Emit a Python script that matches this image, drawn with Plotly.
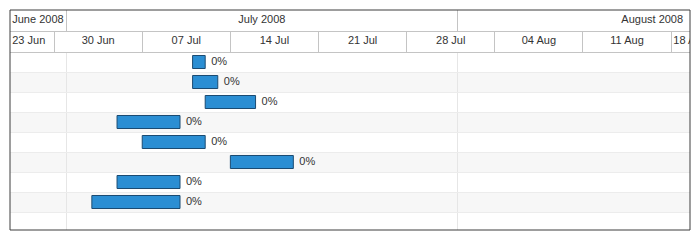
import plotly.graph_objects as go
from datetime import datetime, timedelta

# ---- data ----
task_starts = ["2008-07-11", "2008-07-11", "2008-07-12", "2008-07-05",
               "2008-07-07", "2008-07-14", "2008-07-05", "2008-07-03"]
task_ends = ["2008-07-12", "2008-07-13", "2008-07-16", "2008-07-10",
             "2008-07-12", "2008-07-19", "2008-07-10", "2008-07-10"]
task_progress = [0, 0, 0, 0, 0, 0, 0, 0]
n_rows = 9  # 8 tasks + one empty row

view_start = "2008-06-26 12:00"
view_end = "2008-08-19 12:00"

month_starts = ["2008-06-01", "2008-07-01", "2008-08-01", "2008-09-01"]
month_labels = ["June 2008", "July 2008", "August 2008"]
week_starts = ["2008-06-23", "2008-06-30", "2008-07-07", "2008-07-14", "2008-07-21",
               "2008-07-28", "2008-08-04", "2008-08-11", "2008-08-18", "2008-08-25"]
week_labels = ["23 Jun", "30 Jun", "07 Jul", "14 Jul", "21 Jul",
               "28 Jul", "04 Aug", "11 Aug", "18 Aug"]

# ---- helpers ----
def p(s):
    for fmt in ("%Y-%m-%d %H:%M", "%Y-%m-%d"):
        try:
            return datetime.strptime(s, fmt)
        except ValueError:
            pass

vs, ve = p(view_start), p(view_end)
W, H = 700, 240
FONT = "Liberation Sans, Arial, sans-serif"
TXT = "#333333"
HDR_LINE = "#c4c4c4"
CLEAR = "rgba(0,0,0,0)"

rows = list(range(len(task_starts)))
durations = [(p(e) - p(s)).total_seconds() * 1000 for s, e in zip(task_starts, task_ends)]

fig = go.Figure()

# bars
fig.add_trace(go.Bar(
    y=rows, base=task_starts, x=durations, orientation="h",
    width=0.65,
    marker=dict(color="#2b8ed3", line=dict(color="#1b4b72", width=1)),
    hoverinfo="skip", xaxis="x", yaxis="y",
))
# progress labels at bar ends
fig.add_trace(go.Scatter(
    x=task_ends, y=rows, mode="markers+text",
    marker=dict(size=8, color=CLEAR),
    text=[f"{v}%" for v in task_progress], textposition="middle right",
    textfont=dict(family=FONT, size=11, color=TXT), cliponaxis=False,
    hoverinfo="skip", xaxis="x", yaxis="y"))

# header labels
def label_positions(starts, n):
    xs, pos = [], []
    for i in range(n):
        a, b = p(starts[i]), p(starts[i + 1])
        mid = a + (b - a) / 2
        if a >= vs and b <= ve:
            xs.append(mid); pos.append("middle center")
        elif vs < mid < ve and a >= vs:
            xs.append(mid); pos.append("middle center")
        else:
            xs.append(max(a, vs)); pos.append("middle right")
    return xs, pos

mx, mpos = label_positions(month_starts, len(month_labels))
wx, wpos = label_positions(week_starts, len(week_labels))

fig.add_trace(go.Scatter(
    x=wx, y=[0.5] * len(wx), mode="markers+text", text=week_labels, textposition=wpos,
    marker=dict(size=2, color=CLEAR),
    textfont=dict(family=FONT, size=11, color=TXT), cliponaxis=True,
    hoverinfo="skip", xaxis="x2", yaxis="y2"))
fig.add_trace(go.Scatter(
    x=mx, y=[0.5] * len(mx), mode="markers+text", text=month_labels, textposition=mpos,
    marker=dict(size=2, color=CLEAR),
    textfont=dict(family=FONT, size=11, color=TXT), cliponaxis=True,
    hoverinfo="skip", xaxis="x3", yaxis="y3"))

# alternating row stripes
for i in range(n_rows):
    if i % 2 == 1:
        fig.add_shape(type="rect", xref="x domain", yref="y", x0=0, x1=1,
                      y0=i - 0.5, y1=i + 0.5, fillcolor="#f7f7f7",
                      line_width=0, layer="below")

xdom = [10 / W, 690 / W]
body_dom = [10 / H, 188 / H]
week_dom = [188 / H, 209 / H]
month_dom = [209 / H, 230 / H]

common_x = dict(type="date", range=[view_start, view_end], domain=xdom,
                showticklabels=False, ticks="", zeroline=False, fixedrange=True)

fig.update_layout(
    width=W, height=H, margin=dict(l=0, r=0, t=0, b=0),
    paper_bgcolor="white", plot_bgcolor="white", showlegend=False,
    font=dict(family=FONT, size=11, color=TXT),
    xaxis=dict(**common_x, anchor="y", tickmode="array", tickvals=month_starts,
               showgrid=True, gridcolor="#e6e6e6", gridwidth=1),
    yaxis=dict(domain=body_dom, range=[8.4, -0.5], anchor="x",
               tickmode="array", tickvals=[i + 0.5 for i in range(n_rows)],
               showgrid=True, gridcolor="#ececec", showticklabels=False,
               ticks="", zeroline=False, fixedrange=True),
    xaxis2=dict(**common_x, anchor="y2", matches="x", tickmode="array",
                tickvals=week_starts, showgrid=True, gridcolor=HDR_LINE,
                showline=True, linecolor=HDR_LINE),
    yaxis2=dict(domain=week_dom, range=[0, 1], anchor="x2", showgrid=False,
                showticklabels=False, ticks="", zeroline=False, fixedrange=True),
    xaxis3=dict(**common_x, anchor="y3", matches="x", tickmode="array",
                tickvals=month_starts, showgrid=True, gridcolor=HDR_LINE,
                showline=True, linecolor=HDR_LINE),
    yaxis3=dict(domain=month_dom, range=[0, 1], anchor="x3", showgrid=False,
                showticklabels=False, ticks="", zeroline=False, fixedrange=True),
)

# outer frame
fig.add_shape(type="rect", xref="paper", yref="paper",
              x0=xdom[0], x1=xdom[1], y0=body_dom[0], y1=month_dom[1],
              line=dict(color="#3c3c3c", width=1), fillcolor=CLEAR,
              layer="above")

fig.write_html("out.html")
